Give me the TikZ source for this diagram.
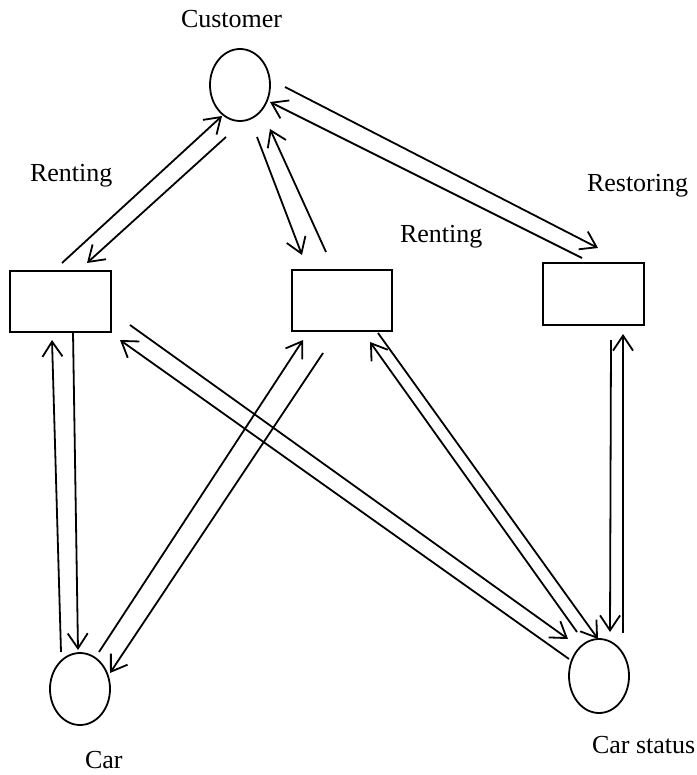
\documentclass[tikz,border=0pt]{standalone}
\usepackage{fontspec}
\setmainfont{Liberation Serif}
\usetikzlibrary{arrows.meta,calc,shapes.geometric}
\begin{document}
\begin{tikzpicture}[x=1pt,y=-1pt,
  every node/.style={inner sep=0pt,outer sep=0pt},
  entity/.style={draw,line width=1.8pt,ellipse,minimum width=60pt,minimum height=72pt},
  process/.style={draw,line width=1.8pt,rectangle,minimum width=101pt,minimum height=61pt},
  lbl/.style={font=\fontsize{26}{30}\selectfont,anchor=base west},
  flow/.style={line width=1.8pt,-{Straight Barb[length=15pt,width=20pt,line width=1.8pt]}}]
\useasboundingbox (0,0) rectangle (696,775);
% nodes
\node[entity] (cust) at (240,85) {};
\node[process] (box1) at (60.5,301.5) {};
\node[process,minimum width=100pt] (box2) at (342,300.5) {};
\node[process,minimum height=62pt] (box3) at (593.5,294) {};
\node[entity] (car) at (80,689) {};
\node[entity,minimum height=74pt] (cs) at (599,676) {};
% labels
\node[lbl] (lcust) at (181,28) {Customer};
\node[lbl] (lrent1) at (30,182) {Renting};
\node[lbl] (lrent2) at (400,243) {Renting};
\node[lbl] (lrest) at (587,192) {Restoring};
\node[lbl] (lcar) at (85,768) {Car};
\node[lbl] (lcs) at (592,753) {Car status};
% connectors
\draw[flow] ($(box1)+(1.5,-38.5)$) -- ($(cust)+(-18,31)$);
\draw[flow] ($(cust)+(-14,52)$) -- ($(box1)+(26.5,-38.5)$);
\draw[flow] ($(cust)+(17,52)$) -- ($(box2)+(-40,-45.5)$);
\draw[flow] ($(box2)+(-16,-48.5)$) -- ($(cust)+(30,44)$);
\draw[flow] ($(cust)+(45,2)$) -- ($(box3)+(4.5,-46)$);
\draw[flow] ($(box3)+(-11.5,-36)$) -- ($(cust)+(30,17)$);
\draw[flow] ($(box1)+(12.5,30.5)$) -- ($(car)+(-2,-39)$);
\draw[flow] ($(car)+(-19,-37)$) -- ($(box1)+(-8.5,38.5)$);
\draw[flow] ($(car)+(19,-37)$) -- ($(box2)+(-39,39.5)$);
\draw[flow] ($(box2)+(-19,52.5)$) -- ($(car)+(30,-16)$);
\draw[flow] ($(box1)+(69.5,23.5)$) -- ($(cs)+(-31,-37)$);
\draw[flow] ($(cs)+(-30,-17)$) -- ($(box1)+(59.5,38.5)$);
\draw[flow] ($(box2)+(36,32.5)$) -- ($(cs)+(-1,-37)$);
\draw[flow] ($(cs)+(-22,-44)$) -- ($(box2)+(28,41.5)$);
\draw[flow] ($(box3)+(17.5,46)$) -- ($(cs)+(11,-44)$);
\draw[flow] ($(cs)+(24,-43)$) -- ($(box3)+(29.5,40)$);
\end{tikzpicture}
\end{document}
